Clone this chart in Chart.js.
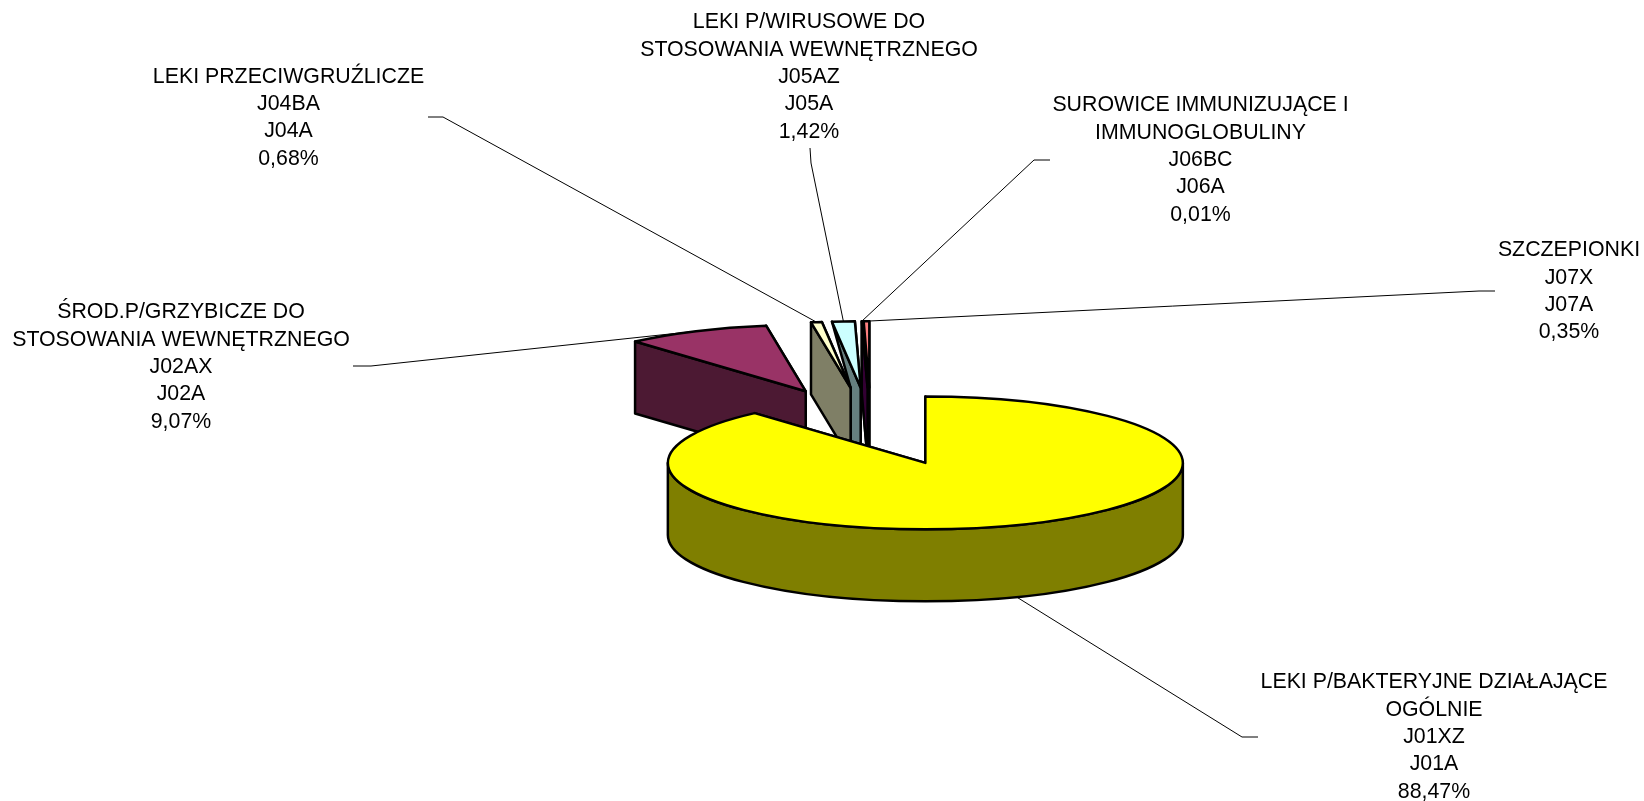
<!DOCTYPE html>
<html>
<head>
<meta charset="utf-8">
<title>Leki J</title>
<script src="https://cdn.jsdelivr.net/npm/chart.js@4/dist/chart.umd.min.js"></script>
<style>
  html, body { margin: 0; padding: 0; background: #fff; }
  canvas { display: block; }
</style>
</head>
<body>
<canvas id="chart" width="1644" height="801"></canvas>
<script>
// values
var names = [
    'LEKI P/BAKTERYJNE DZIAŁAJĄCE\nOGÓLNIE',
    'ŚROD.P/GRZYBICZE DO\nSTOSOWANIA WEWNĘTRZNEGO',
    'LEKI PRZECIWGRUŹLICZE',
    'LEKI P/WIRUSOWE DO\nSTOSOWANIA WEWNĘTRZNEGO',
    'SUROWICE IMMUNIZUJĄCE I\nIMMUNOGLOBULINY',
    'SZCZEPIONKI'
];
var codes = ['J01XZ', 'J02AX', 'J04BA', 'J05AZ', 'J06BC', 'J07X'];
var groups = ['J01A', 'J02A', 'J04A', 'J05A', 'J06A', 'J07A'];
var shares = [88.47, 9.07, 0.68, 1.42, 0.01, 0.35];
var colors = ['#FFFF00', '#993366', '#FFFFCC', '#CCFFFF', '#660066', '#FF8080'];

// label placement: x, y of the first text line, then the bend points of the leader line
var labelX = [1434, 181, 288.5, 809, 1200.5, 1569];
var labelY = [682.5, 312.5, 77, 22.5, 105.5, 250.5];
var leaders = [
    [[1258, 737], [1242, 737]],
    [[353, 366], [371, 366]],
    [[428, 117], [443, 117]],
    [[810, 148], [811, 163]],
    [[1050, 160], [1034, 160]],
    [[1495, 291], [1479, 291]]
];

var squash = 0.258;     // tilt of the pie
var depth = 72;         // height of the pie
var explode = 153.4;    // all slices pulled out by the same distance
var explodeY = 0.2536;  // same pull, flattened
var lineH = 27.3;
var drawOrder = [5, 4, 3, 2, 1, 0];

function darken(hex) {
    var n = parseInt(hex.slice(1), 16);
    var r = (n >> 16) >> 1, g = ((n >> 8) & 255) >> 1, b = (n & 255) >> 1;
    return 'rgb(' + r + ',' + g + ',' + b + ')';
}

function geom(arc) {
    var p = arc.getProps(['x', 'y', 'startAngle', 'endAngle', 'outerRadius'], true);
    var mid = (p.startAngle + p.endAngle) / 2;
    return {
        x: p.x + Math.cos(mid) * explode,
        y: p.y + Math.sin(mid) * explode * explodeY,
        cx: p.x, cy: p.y,
        r: p.outerRadius, ry: p.outerRadius * squash,
        start: p.startAngle, end: p.endAngle, mid: mid
    };
}

// cut face of a slice; prev is the slice next to it when that one hides the outer corner
function face(ctx, g, angle, color, prev) {
    var ex = g.x + Math.cos(angle) * g.r;
    var ey = g.y + Math.sin(angle) * g.ry;
    ctx.beginPath();
    ctx.moveTo(g.x, g.y);
    ctx.lineTo(ex, ey);
    if (prev && prev.x > ex) {
        ctx.lineTo(prev.x, prev.y);
        ctx.lineTo(prev.x, prev.y + depth);
    } else {
        ctx.lineTo(ex, ey + depth);
    }
    ctx.lineTo(g.x, g.y + depth);
    ctx.closePath();
    ctx.fillStyle = color;
    ctx.fill();
    ctx.stroke();
}

var pie3d = {
    id: 'pie3d',
    beforeDatasetDraw: function(chart) {
        var ctx = chart.ctx;
        var arcs = chart.getDatasetMeta(0).data;

        // leader lines go under the slices
        ctx.save();
        ctx.strokeStyle = '#000';
        ctx.lineWidth = 1;
        leaders.forEach(function(pts, i) {
            var g = geom(arcs[i]);
            var tx = g.x + Math.cos(g.mid) * g.r;
            var ty = g.y + Math.sin(g.mid) * g.ry + (Math.sin(g.mid) > 0 ? depth : 0);
            ctx.beginPath();
            ctx.moveTo(pts[0][0], pts[0][1]);
            ctx.lineTo(pts[1][0], pts[1][1]);
            ctx.lineTo(tx, ty);
            ctx.stroke();
        });
        ctx.restore();

        drawOrder.forEach(function(i) {
            var arc = arcs[i];
            var g = geom(arc);
            var wall = darken(colors[i]);

            ctx.save();
            ctx.strokeStyle = '#000';
            ctx.lineWidth = 2.5;
            ctx.lineJoin = 'round';

            // cut faces
            face(ctx, g, g.end, wall);
            face(ctx, g, g.start, wall, i > 1 ? geom(arcs[i - 1]) : null);

            // outer wall, only the part turned to the viewer
            var a0 = Math.max(g.start, 0), a1 = Math.min(g.end, Math.PI);
            if (a1 > a0) {
                ctx.beginPath();
                ctx.ellipse(g.x, g.y, g.r, g.ry, 0, a0, a1);
                ctx.ellipse(g.x, g.y + depth, g.r, g.ry, 0, a1, a0, true);
                ctx.closePath();
                ctx.fillStyle = wall;
                ctx.fill();
                ctx.stroke();
            }

            // top of the slice, the library's own arc under a flattened context
            ctx.save();
            ctx.translate(g.x, g.y);
            ctx.scale(1, squash);
            ctx.translate(-g.cx, -g.cy);
            arc.draw(ctx);
            ctx.restore();

            ctx.beginPath();
            ctx.moveTo(g.x, g.y);
            ctx.ellipse(g.x, g.y, g.r, g.ry, 0, g.start, g.end);
            ctx.closePath();
            ctx.stroke();
            ctx.restore();
        });
        return false;
    },
    afterDraw: function(chart) {
        var ctx = chart.ctx;
        ctx.save();
        ctx.font = '21.33px "Liberation Sans", Arial, sans-serif';
        ctx.fillStyle = '#000';
        ctx.textAlign = 'center';
        ctx.textBaseline = 'middle';
        names.forEach(function(name, i) {
            var lines = name.split('\n');
            lines.push(codes[i], groups[i], shares[i].toFixed(2).replace('.', ',') + '%');
            lines.forEach(function(t, k) {
                ctx.fillText(t, labelX[i], labelY[i] + k * lineH);
            });
        });
        ctx.restore();
    }
};

new Chart(document.getElementById('chart'), {
    type: 'pie',
    data: {
        labels: groups,
        datasets: [{
            data: shares,
            backgroundColor: colors,
            borderWidth: 0
        }]
    },
    options: {
        responsive: false,
        animation: false,
        radius: 257.5,
        layout: { padding: { left: 98, top: 52 } },
        plugins: { legend: { display: false }, tooltip: { enabled: false } }
    },
    plugins: [pie3d]
});
</script>
</body>
</html>
